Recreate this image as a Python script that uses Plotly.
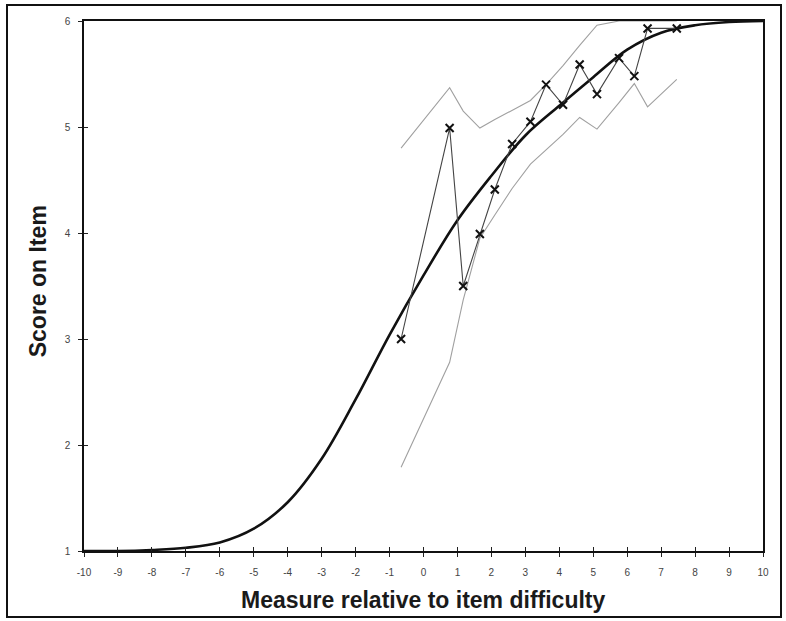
import plotly.graph_objects as go

# Expected score curve (model ICC)
curve_x = [-10, -9, -8, -7, -6, -5, -4, -3, -2, -1, 0, 1, 2, 3, 4, 5, 6, 7, 8, 9, 10]
curve_y = [1.00, 1.00, 1.01, 1.03, 1.08, 1.21, 1.46, 1.87, 2.43, 3.04, 3.60,
           4.12, 4.54, 4.92, 5.20, 5.47, 5.73, 5.89, 5.96, 5.99, 6.00]

# Observed mean scores by measure group
obs_x = [-0.66, 0.77, 1.17, 1.66, 2.10, 2.61, 3.15, 3.61, 4.11, 4.60, 5.11, 5.76, 6.21, 6.60, 7.46]
obs_y = [3.00, 4.99, 3.50, 3.99, 4.41, 4.84, 5.05, 5.40, 5.21, 5.59, 5.31, 5.65, 5.48, 5.93, 5.93]

# Confidence bands
upper_y = [4.80, 5.37, 5.15, 4.99, 5.07, 5.16, 5.25, 5.40, 5.58, 5.77, 5.96, 6.00, 6.00, 6.00, 6.00]
lower_y = [1.79, 2.78, 3.37, 3.95, 4.17, 4.42, 4.65, 4.78, 4.93, 5.09, 4.98, 5.23, 5.41, 5.19, 5.45]

x_ticks = list(range(-10, 11))
y_ticks = [1, 2, 3, 4, 5, 6]

fig = go.Figure()

fig.add_trace(go.Scatter(x=obs_x, y=upper_y, mode="lines",
                         line=dict(color="#a0a0a0", width=1.1), hoverinfo="skip", showlegend=False))
fig.add_trace(go.Scatter(x=obs_x, y=lower_y, mode="lines",
                         line=dict(color="#a0a0a0", width=1.1), hoverinfo="skip", showlegend=False))
fig.add_trace(go.Scatter(x=curve_x, y=curve_y, mode="lines", line_shape="spline",
                         line=dict(color="#111111", width=2.6), showlegend=False))
fig.add_trace(go.Scatter(x=obs_x, y=obs_y, mode="lines+markers",
                         line=dict(color="#444444", width=1.1),
                         marker=dict(symbol="x-thin", size=8, color="#111111",
                                     line=dict(color="#111111", width=2)),
                         showlegend=False))
# helper axes for inside tick halves
fig.add_trace(go.Scatter(x=[None], y=[None], xaxis="x2", yaxis="y2",
                         mode="markers", showlegend=False, hoverinfo="skip"))

tickfont = dict(family="Liberation Sans, Arial, sans-serif", size=10, color="#444444")

fig.update_layout(
    width=786, height=621,
    paper_bgcolor="white", plot_bgcolor="white",
    margin=dict(l=84, r=23, t=21, b=70),
    xaxis=dict(range=[-10, 10], tickmode="array", tickvals=x_ticks,
               ticktext=[str(v) for v in x_ticks],
               showgrid=False, zeroline=False, showline=True, linecolor="#111111",
               linewidth=1.5, mirror=True, ticks="outside", ticklen=4, tickwidth=1,
               tickcolor="#222222", tickfont=tickfont, ticklabelstandoff=7),
    yaxis=dict(range=[1, 6], tickmode="array", tickvals=y_ticks,
               ticktext=[str(v) for v in y_ticks],
               showgrid=False, zeroline=False, showline=True, linecolor="#111111",
               linewidth=1.5, mirror=True, ticks="outside", ticklen=4, tickwidth=1,
               tickcolor="#222222", tickfont=tickfont, ticklabelstandoff=6),
    xaxis2=dict(range=[-10, 10], overlaying="x", side="bottom", anchor="y2",
                tickmode="array", tickvals=x_ticks, showticklabels=False,
                showgrid=False, zeroline=False, showline=False,
                ticks="inside", ticklen=4, tickwidth=1, tickcolor="#222222"),
    yaxis2=dict(range=[1, 6], overlaying="y", side="left", anchor="x2",
                tickmode="array", tickvals=y_ticks, showticklabels=False,
                showgrid=False, zeroline=False, showline=False,
                ticks="inside", ticklen=4, tickwidth=1, tickcolor="#222222"),
    annotations=[
        dict(text="<b>Measure relative to item difficulty</b>", xref="paper", yref="paper",
             x=0.4993, y=-0.0925, xanchor="center", yanchor="middle", showarrow=False,
             font=dict(family="Liberation Sans, Arial, sans-serif", size=23, color="#1a1a1a")),
        dict(text="<b>Score on Item</b>", xref="paper", yref="paper",
             x=-0.0677, y=0.509, xanchor="center", yanchor="middle", showarrow=False,
             textangle=-90,
             font=dict(family="Liberation Sans, Arial, sans-serif", size=23, color="#1a1a1a")),
    ],
    shapes=[
        dict(type="rect", xref="paper", yref="paper",
             x0=(7 - 84) / 679, x1=(781 - 84) / 679,
             y0=(551 - 617) / 530, y1=(551 - 5) / 530,
             line=dict(color="#111111", width=2), fillcolor="rgba(0,0,0,0)", layer="below"),
    ],
)

fig.write_html("out.html", config={"displayModeBar": False},
               post_script="document.body.style.margin='0';")
